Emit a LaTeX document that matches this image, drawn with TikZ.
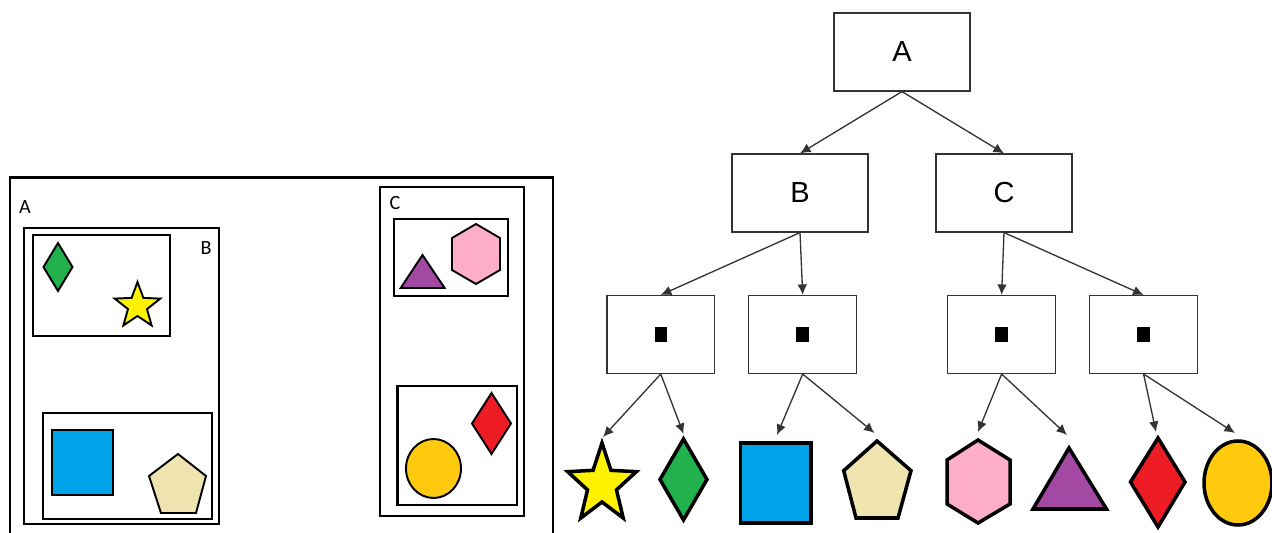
\documentclass[tikz,border=0pt]{standalone}
\usepackage{fontspec}
\setmainfont{Liberation Sans}
\newfontfamily\calfont{Carlito}
\usetikzlibrary{arrows.meta}
\definecolor{pgreen}{HTML}{22B14C}
\definecolor{pyellow}{HTML}{FFF200}
\definecolor{pblue}{HTML}{00A2E8}
\definecolor{pbeige}{HTML}{EFE4B0}
\definecolor{ppink}{HTML}{FFAEC9}
\definecolor{ppurple}{HTML}{A349A4}
\definecolor{pred}{HTML}{ED1C24}
\definecolor{pgold}{HTML}{FFC90E}
\definecolor{treeline}{HTML}{333333}
\tikzset{
  panelbox/.style={draw=black, line width=1.6pt},
  panelshape/.style={draw=black, line width=1.1pt, line join=miter},
  treeshape/.style={draw=black, line width=2pt, line join=miter},
  panellabel/.style={inner sep=0pt, font=\calfont\fontsize{11.5}{13}\selectfont},
  tbox/.style={draw=treeline, line width=0.85pt, rectangle, minimum width=2.72cm, minimum height=1.554cm, inner sep=0pt, font=\fontsize{16.5}{18}\selectfont, text=black},
  sbox/.style={draw=treeline, line width=0.85pt, rectangle, minimum width=2.16cm, minimum height=1.552cm, inner sep=0pt},
  tarrow/.style={draw=treeline, line width=0.75pt, -{Latex[length=6pt,width=5.5pt]}}
}
\newcommand{\blk}{\rule{0.25cm}{0.3cm}}
\begin{document}
\begin{tikzpicture}[x=0.02cm, y=-0.02cm]
\useasboundingbox (0,0) rectangle (1272,533);
\fill[white] (0,0) rectangle (1272,533);

% ---------- left panel ----------
\draw[panelbox] (10,177.5) rectangle (553,545);
\node[panellabel] (labA) at (25,207) {A};
\draw[panelbox] (24,228) rectangle (219,524);
\node[panellabel] (labB) at (206,248) {B};
\draw[panelbox] (33,235) rectangle (170,336);
\draw[panelbox] (43,413) rectangle (212,519);
\draw[panelbox] (380,187) rectangle (524,516);
\node[panellabel] (labC) at (395,203) {C};
\draw[panelbox] (394,219) rectangle (508,296);
\draw[panelbox] (397.5,386) rectangle (517,505);

% shapes in panel
\draw[panelshape, fill=pgreen] (58,243) -- (72.5,267) -- (58,291) -- (43.5,267) -- cycle;
\begin{scope}[shift={(137.5,306)}]
\draw[panelshape, fill=pyellow] (-90:24) -- (-54:10) -- (-18:24) -- (18:10) -- (54:24) -- (90:10) -- (126:24) -- (162:10) -- (198:24) -- (234:10) -- cycle;
\end{scope}
\draw[panelshape, fill=pblue] (52,430) rectangle (113,495);
\draw[panelshape, fill=pbeige] (178,454) -- (206,476) -- (196,513) -- (161,513) -- (149,476) -- cycle;
\draw[panelshape, fill=ppurple] (422.5,255) -- (444.6,288) -- (400.7,288) -- cycle;
\draw[panelshape, fill=ppink] (476,224) -- (500,238) -- (500,270) -- (476,284) -- (452,270) -- (452,238) -- cycle;
\draw[panelshape, fill=pred] (491.5,393) -- (511,423.5) -- (491.5,454) -- (472,423.5) -- cycle;
\draw[panelshape, fill=pgold] (433.5,468.5) ellipse [x radius=27.5, y radius=29.5];

% ---------- tree ----------
\node[tbox] (A) at (902,52) {A};
\node[tbox] (B) at (800,193) {B};
\node[tbox] (C) at (1004,193) {C};
\node[sbox] (b1) at (660.75,334.5) {\blk};
\node[sbox] (b2) at (802.7,334.5) {\blk};
\node[sbox] (c1) at (1001.6,334.5) {\blk};
\node[sbox] (c2) at (1143.6,334.5) {\blk};

\path[tarrow] (A.south) -- (B.north);
\path[tarrow] (A.south) -- (C.north);
\path[tarrow] (B.south) -- (b1.north);
\path[tarrow] (B.south) -- (b2.north);
\path[tarrow] (C.south) -- (c1.north);
\path[tarrow] (C.south) -- (c2.north);

\coordinate (t1) at (603,437);
\coordinate (t2) at (683.6,434);
\coordinate (t3) at (777,435);
\coordinate (t4) at (874.5,433);
\coordinate (t5) at (978,432);
\coordinate (t6) at (1067,435);
\coordinate (t7) at (1156,432);
\coordinate (t8) at (1235,433);

\path[tarrow] (b1.south) -- (t1);
\path[tarrow] (b1.south) -- (t2);
\path[tarrow] (b2.south) -- (t3);
\path[tarrow] (b2.south) -- (t4);
\path[tarrow] (c1.south) -- (t5);
\path[tarrow] (c1.south) -- (t6);
\path[tarrow] (c2.south) -- (t7);
\path[tarrow] (c2.south) -- (t8);

% leaf shapes
\begin{scope}[shift={(602,484.5)}, xscale=0.87]
\draw[treeshape, fill=pyellow] (-90:41.5) -- (-54:17.5) -- (-18:41.5) -- (18:17.5) -- (54:41.5) -- (90:17.5) -- (126:41.5) -- (162:17.5) -- (198:41.5) -- (234:17.5) -- cycle;
\end{scope}
\draw[treeshape, fill=pgreen] (683.5,439) -- (707,479.5) -- (683.5,520) -- (660,479.5) -- cycle;
\draw[treeshape, fill=pblue] (740.5,443) rectangle (811,523);
\draw[treeshape, fill=pbeige] (877,441) -- (911,470.7) -- (898,518) -- (856,518) -- (843.7,470.7) -- cycle;
\draw[treeshape, fill=ppink] (978,440) -- (1010,460) -- (1010,504) -- (978,523) -- (947,504) -- (947,460) -- cycle;
\draw[treeshape, fill=ppurple] (1069,448) -- (1106.5,509) -- (1033,509) -- cycle;
\draw[treeshape, fill=pred] (1158,438) -- (1185,482) -- (1158,527) -- (1130.5,482) -- cycle;
\draw[treeshape, fill=pgold] (1238,483) ellipse [x radius=34, y radius=42];
\end{tikzpicture}
\end{document}
